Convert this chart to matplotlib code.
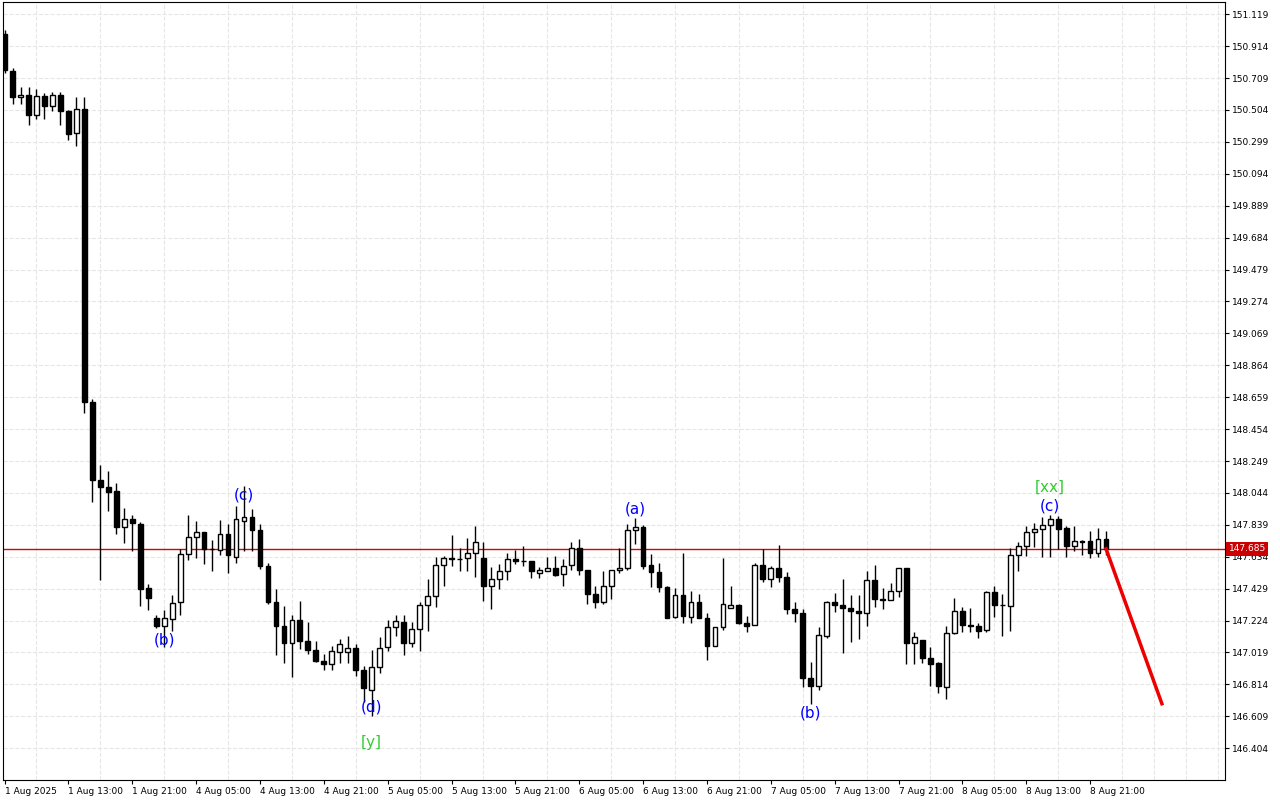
import numpy as np
import matplotlib.pyplot as plt

# hourly USDJPY-style candles, 1 Aug 05:00 .. 8 Aug 22:00
opens = [150.990, 150.756, 150.584, 150.601, 150.469, 150.592, 150.529, 150.601, 150.498, 150.358,
         150.512, 148.625, 148.130, 148.080, 148.059, 147.824, 147.878, 147.844, 147.435, 147.243,
         147.191, 147.234, 147.343, 147.649, 147.758, 147.795, 147.686, 147.680, 147.778, 147.635,
         147.864, 147.887, 147.807, 147.572, 147.343, 147.191, 147.078, 147.227, 147.094, 147.035,
         146.967, 146.945, 147.020, 147.024, 147.048, 146.907, 146.778, 146.928, 147.056, 147.185,
         147.212, 147.078, 147.170, 147.324, 147.379, 147.580, 147.623, 147.617, 147.625, 147.657,
         147.625, 147.443, 147.490, 147.544, 147.619, 147.606, 147.608, 147.531, 147.544, 147.561,
         147.522, 147.580, 147.689, 147.548, 147.394, 147.341, 147.446, 147.548, 147.561, 147.805,
         147.822, 147.580, 147.533, 147.437, 147.244, 147.388, 147.249, 147.341, 147.240, 147.063,
         147.180, 147.304, 147.324, 147.206, 147.195, 147.580, 147.488, 147.561, 147.501, 147.298,
         147.272, 146.855, 146.806, 147.127, 147.341, 147.324, 147.304, 147.287, 147.272, 147.484,
         147.362, 147.356, 147.416, 147.561, 147.078, 147.100, 146.984, 146.950, 146.800, 147.142,
         147.283, 147.198, 147.187, 147.163, 147.409, 147.324, 147.315, 147.644, 147.700, 147.796,
         147.811, 147.839, 147.875, 147.818, 147.700, 147.732, 147.732, 147.661, 147.747]
highs = [151.020, 150.773, 150.650, 150.650, 150.641, 150.612, 150.621, 150.621, 150.506, 150.584,
         150.584, 148.645, 148.225, 148.182, 148.110, 147.950, 147.901, 147.858, 147.457, 147.257,
         147.291, 147.386, 147.686, 147.901, 147.864, 147.795, 147.744, 147.872, 147.844, 147.958,
         148.087, 147.938, 147.844, 147.595, 147.429, 147.319, 147.259, 147.351, 147.217, 147.095,
         147.009, 147.058, 147.106, 147.127, 147.073, 146.934, 147.035, 147.116, 147.227, 147.259,
         147.259, 147.212, 147.341, 147.490, 147.634, 147.640, 147.775, 147.689, 147.753, 147.832,
         147.726, 147.569, 147.587, 147.655, 147.676, 147.702, 147.608, 147.569, 147.634, 147.640,
         147.619, 147.726, 147.747, 147.548, 147.448, 147.544, 147.548, 147.689, 147.847, 147.882,
         147.839, 147.651, 147.597, 147.448, 147.433, 147.661, 147.416, 147.394, 147.270, 147.185,
         147.625, 147.448, 147.330, 147.255, 147.597, 147.683, 147.576, 147.711, 147.533, 147.345,
         147.298, 146.956, 147.180, 147.351, 147.398, 147.490, 147.390, 147.390, 147.544, 147.580,
         147.433, 147.465, 147.561, 147.561, 147.148, 147.100, 147.052, 146.956, 147.191, 147.369,
         147.309, 147.305, 147.206, 147.416, 147.448, 147.394, 147.689, 147.726, 147.833, 147.848,
         147.890, 147.903, 147.897, 147.833, 147.833, 147.740, 147.800, 147.818, 147.800]
lows = [150.740, 150.544, 150.544, 150.406, 150.443, 150.443, 150.498, 150.406, 150.312, 150.272,
        148.560, 147.987, 147.486, 147.930, 147.778, 147.721, 147.672, 147.320, 147.291, 147.177,
        147.057, 147.157, 147.263, 147.615, 147.623, 147.586, 147.543, 147.643, 147.529, 147.595,
        147.672, 147.672, 147.557, 147.329, 147.005, 146.950, 146.860, 147.041, 147.009, 146.956,
        146.907, 146.907, 146.950, 146.950, 146.870, 146.699, 146.614, 146.885, 147.031, 147.127,
        147.005, 147.052, 147.026, 147.155, 147.309, 147.448, 147.576, 147.540, 147.540, 147.501,
        147.347, 147.298, 147.426, 147.484, 147.587, 147.576, 147.497, 147.497, 147.544, 147.512,
        147.443, 147.548, 147.518, 147.330, 147.304, 147.330, 147.362, 147.529, 147.548, 147.715,
        147.555, 147.437, 147.405, 147.240, 147.240, 147.206, 147.206, 147.240, 146.971, 147.063,
        147.163, 147.304, 147.202, 147.148, 147.195, 147.475, 147.437, 147.475, 147.266, 147.212,
        146.796, 146.689, 146.778, 147.112, 147.277, 147.014, 147.084, 147.106, 147.191, 147.313,
        147.298, 147.356, 147.377, 146.945, 146.945, 146.950, 146.806, 146.757, 146.721, 147.138,
        147.148, 147.150, 147.112, 147.150, 147.245, 147.127, 147.155, 147.540, 147.636, 147.698,
        147.630, 147.634, 147.683, 147.630, 147.668, 147.647, 147.625, 147.634, 147.647]
closes = [150.760, 150.584, 150.601, 150.469, 150.592, 150.529, 150.601, 150.498, 150.349, 150.512,
          148.625, 148.130, 148.081, 148.050, 147.824, 147.878, 147.852, 147.429, 147.366, 147.191,
          147.243, 147.337, 147.652, 147.764, 147.795, 147.686, 147.683, 147.778, 147.643, 147.878,
          147.887, 147.807, 147.572, 147.343, 147.191, 147.078, 147.227, 147.090, 147.035, 146.962,
          146.945, 147.031, 147.073, 147.048, 146.907, 146.791, 146.924, 147.048, 147.185, 147.219,
          147.078, 147.170, 147.324, 147.379, 147.580, 147.623, 147.617, 147.620, 147.659, 147.728,
          147.443, 147.490, 147.544, 147.619, 147.604, 147.604, 147.544, 147.550, 147.561, 147.518,
          147.576, 147.689, 147.548, 147.394, 147.341, 147.446, 147.548, 147.561, 147.805, 147.822,
          147.576, 147.533, 147.437, 147.240, 147.388, 147.255, 147.341, 147.240, 147.063, 147.180,
          147.330, 147.324, 147.206, 147.189, 147.580, 147.488, 147.561, 147.501, 147.298, 147.272,
          146.855, 146.806, 147.131, 147.341, 147.324, 147.304, 147.287, 147.272, 147.484, 147.362,
          147.356, 147.416, 147.561, 147.078, 147.121, 146.984, 146.945, 146.802, 147.142, 147.283,
          147.195, 147.187, 147.159, 147.409, 147.324, 147.322, 147.644, 147.700, 147.790, 147.811,
          147.839, 147.875, 147.811, 147.700, 147.732, 147.730, 147.657, 147.747, 147.685]

xlabels = ['1 Aug 2025', '1 Aug 13:00', '1 Aug 21:00', '4 Aug 05:00', '4 Aug 13:00', '4 Aug 21:00',
           '5 Aug 05:00', '5 Aug 13:00', '5 Aug 21:00', '6 Aug 05:00', '6 Aug 13:00', '6 Aug 21:00',
           '7 Aug 05:00', '7 Aug 13:00', '7 Aug 21:00', '8 Aug 05:00', '8 Aug 13:00', '8 Aug 21:00']
yticks = [146.404 + 0.205 * k for k in range(24)]
last_price = 147.685

# wave labels: (text, bar index, price, colour)
wave_labels = [('(b)', 20, 147.10, 'blue'), ('(c)', 30, 148.03, 'blue'), ('(d)', 46, 146.67, 'blue'),
               ('[y]', 46, 146.44, '#33cc33'), ('(a)', 79, 147.94, 'blue'), ('(b)', 101, 146.63, 'blue'),
               ('(c)', 131, 147.96, 'blue'), ('[xx]', 131, 148.08, '#33cc33')]
forecast_x = [138, 145]
forecast_y = [147.685, 146.69]

fig = plt.figure(figsize=(12.8, 8), dpi=100)
ax = fig.add_axes([0.002, 0.025, 0.955, 0.973])

o = np.array(opens); h = np.array(highs); l = np.array(lows); c = np.array(closes)
x = np.arange(len(o))
up = c >= o
ax.vlines(x, l, h, color='black', lw=1, zorder=3)
body_lo = np.minimum(o, c)
body_h = np.maximum(np.abs(c - o), 0.004)
ax.bar(x[up], body_h[up], bottom=body_lo[up], width=0.6, color='white', edgecolor='black', lw=1, zorder=4)
ax.bar(x[~up], body_h[~up], bottom=body_lo[~up], width=0.6, color='black', edgecolor='black', lw=1, zorder=4)

ax.axhline(last_price, color='#dd0000', lw=1, zorder=2)
ax.plot(forecast_x, forecast_y, color='#ee0000', lw=2.5, zorder=5)

for txt, xi, yv, col in wave_labels:
    ax.text(xi, yv, txt, color=col, fontsize=11, ha='center', va='center', zorder=6)

ax.set_xlim(-0.25, 152.9)
ax.set_ylim(146.2, 151.2)
ax.set_xticks(np.arange(0, 8 * len(xlabels), 8))
ax.set_xticklabels(xlabels, fontsize=6.5, ha='left')
ax.set_yticks(yticks)
ax.set_yticklabels([f'{v:.3f}' for v in yticks], fontsize=6.5)
ax.yaxis.tick_right()
ax.tick_params(axis='both', length=3, pad=2)
ax.set_xticks(np.arange(4, 153, 4), minor=True)
ax.tick_params(which='minor', length=0)
ax.grid(True, which='minor', axis='x', color='#e6e6e6', ls='--', lw=0.8)
ax.grid(True, which='major', axis='y', color='#e6e6e6', ls='--', lw=0.8)
for s in ax.spines.values():
    s.set_color('black')

ax.text(1.003, last_price, f'{last_price:.3f}', transform=ax.get_yaxis_transform(), fontsize=6.5,
        color='white', va='center', ha='left',
        bbox=dict(boxstyle='square,pad=0.25', fc='#cc0000', ec='none'), zorder=10, clip_on=False)

fig.savefig('out.png', dpi=100)
